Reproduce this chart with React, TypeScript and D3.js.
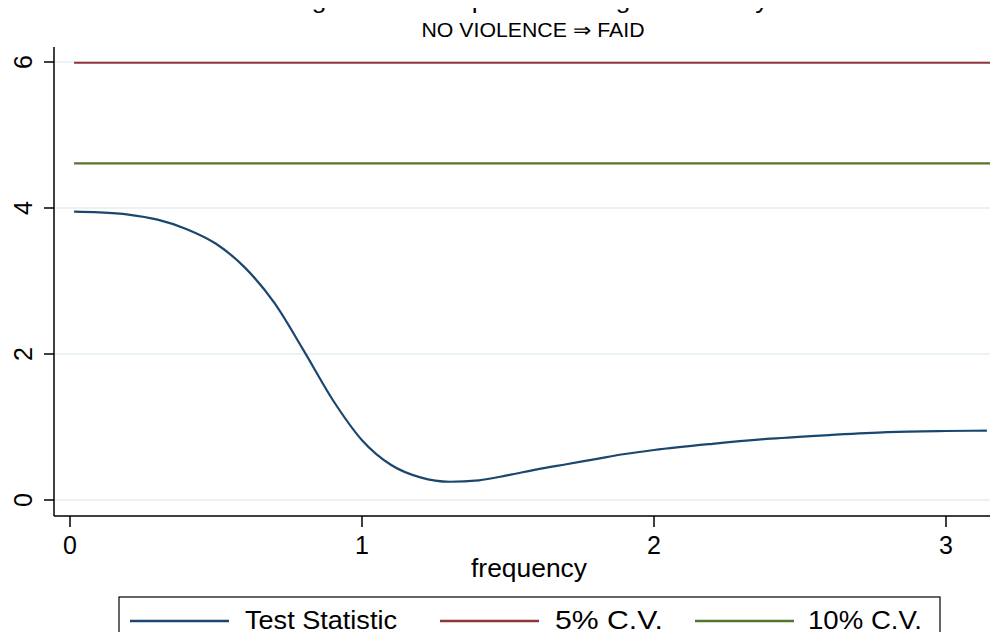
import React from "react";
import { scaleLinear, line, curveMonotoneX } from "d3";

const frequency = [0.014, 0.1, 0.2, 0.3, 0.4, 0.5, 0.6, 0.7, 0.8, 0.9, 1.0, 1.1, 1.2, 1.3, 1.4, 1.5, 1.6, 1.7, 1.8, 1.9, 2.0, 2.2, 2.4, 2.6, 2.8, 3.0, 3.14];
const testStatistic = [3.95, 3.94, 3.91, 3.84, 3.71, 3.51, 3.18, 2.7, 2.05, 1.37, 0.82, 0.48, 0.31, 0.25, 0.27, 0.34, 0.42, 0.49, 0.56, 0.63, 0.685, 0.77, 0.84, 0.89, 0.93, 0.945, 0.95];
const cv5 = 5.99;
const cv10 = 4.61;
const yTicks = [0, 2, 4, 6];
const xTicks = [0, 1, 2, 3];
const legendLabels = ["Test Statistic", "5% C.V.", "10% C.V."];

const title = "Breitung-Candelon Spectral Granger Causality Test";
const subtitle = "NO VIOLENCE \u21D2 FAID";

const navy = "#1a476f";
const maroon = "#90353b";
const green = "#55752f";
const grid = "#eaf2f3";
const font = "'Liberation Sans', Arial, sans-serif";

export default function App() {
  const W = 990;
  const H = 632;
  const left = 54;
  const top = 47;
  const bottom = 516;

  const x = scaleLinear().domain([0, 3]).range([70, 946]);
  const y = scaleLinear().domain([0, 6]).range([500, 62]);

  const pts = frequency.map((f, i) => ({ f, v: testStatistic[i] }));
  const path = line<{ f: number; v: number }>()
    .x((d) => x(d.f))
    .y((d) => y(d.v))
    .curve(curveMonotoneX)(pts);

  const f0 = frequency[0];
  const f1 = frequency[frequency.length - 1];

  // legend layout
  const legendItems = [
    { label: legendLabels[0], color: navy, x1: 130, tx: 245, tw: 152 },
    { label: legendLabels[1], color: maroon, x1: 440, tx: 555, tw: 108 },
    { label: legendLabels[2], color: green, x1: 695, tx: 808, tw: 114 },
  ];

  return (
    <svg
      width={W}
      height={H}
      style={{ position: "absolute", left: 0, top: 0, background: "#fff" }}
      fontFamily={font}
    >
      {/* title: the picture is cropped, only descenders show */}
      <svg x={0} y={8} width={W} height={10} overflow="hidden">
        <text x={229} y={0} fontSize={24} fill="#000" textLength={594} lengthAdjust="spacingAndGlyphs">
          {title}
        </text>
      </svg>
      <text x={533} y={37} fontSize={19.5} fill="#000" textAnchor="middle" textLength={223} lengthAdjust="spacingAndGlyphs">
        {subtitle}
      </text>

      {/* grid */}
      {yTicks.map((t) => (
        <line key={`g${t}`} x1={left} x2={W} y1={y(t)} y2={y(t)} stroke={grid} strokeWidth={2} />
      ))}

      {/* critical values */}
      <line x1={x(f0)} x2={x(f1) + 5} y1={y(cv5)} y2={y(cv5)} stroke={maroon} strokeWidth={2.2} />
      <line x1={x(f0)} x2={x(f1) + 5} y1={y(cv10)} y2={y(cv10)} stroke={green} strokeWidth={2.2} />

      {/* test statistic */}
      <path d={path ?? ""} fill="none" stroke={navy} strokeWidth={2.2} />

      {/* y axis */}
      <line x1={left} x2={left} y1={top} y2={bottom} stroke="#000" strokeWidth={1.5} />
      {yTicks.map((t) => (
        <g key={`y${t}`}>
          <line x1={44} x2={left} y1={y(t)} y2={y(t)} stroke="#000" strokeWidth={1.5} />
          <text
            transform={`translate(32, ${y(t)}) rotate(-90)`}
            textAnchor="middle"
            fontSize={25}
            fill="#000"
          >
            {t}
          </text>
        </g>
      ))}

      {/* x axis */}
      <line x1={left} x2={W} y1={bottom} y2={bottom} stroke="#000" strokeWidth={1.5} />
      {xTicks.map((t) => (
        <g key={`x${t}`}>
          <line x1={x(t)} x2={x(t)} y1={bottom} y2={527} stroke="#000" strokeWidth={1.5} />
          <text x={x(t)} y={554} textAnchor="middle" fontSize={25} fill="#000">
            {t}
          </text>
        </g>
      ))}
      <text x={529} y={577} textAnchor="middle" fontSize={25} fill="#000" textLength={116} lengthAdjust="spacingAndGlyphs">
        frequency
      </text>

      {/* legend */}
      <rect x={119} y={597} width={821} height={60} fill="#fff" stroke="#000" strokeWidth={1.2} />
      {legendItems.map((d) => (
        <g key={d.label}>
          <line x1={d.x1} x2={d.x1 + 99} y1={621} y2={621} stroke={d.color} strokeWidth={2.5} />
          <text x={d.tx} y={629} fontSize={25} fill="#000" textLength={d.tw} lengthAdjust="spacingAndGlyphs">
            {d.label}
          </text>
        </g>
      ))}
    </svg>
  );
}
